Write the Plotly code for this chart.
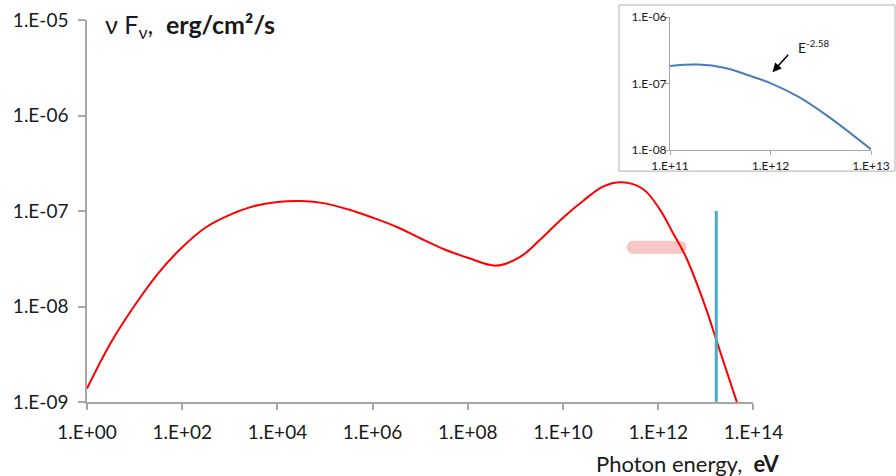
import numpy as np
import plotly.graph_objects as go

# ---- data (log10 values) ----
sed_log_e = [0.0, 0.5, 1.0, 1.5, 2.0, 2.5, 3.0, 3.5, 4.0, 4.5, 5.0, 5.5, 6.0, 6.5, 7.0, 7.5,
             8.0, 8.6, 9.1, 9.5, 10.0, 10.42, 10.84, 11.23, 11.68, 12.03, 12.31, 12.59,
             13.01, 13.22, 13.64, 13.72]
sed_log_f = [-8.86, -8.38, -7.99, -7.65, -7.38, -7.17, -7.04, -6.95, -6.905, -6.895, -6.92,
             -6.985, -7.07, -7.165, -7.285, -7.40, -7.49, -7.572, -7.48, -7.31, -7.07,
             -6.895, -6.745, -6.70, -6.77, -6.98, -7.23, -7.49, -8.03, -8.35, -8.98, -9.10]

band_log_e = [11.475, 12.46]
band_log_f = [-7.38, -7.38]

limit_log_e = [13.22, 13.22]
limit_log_f = [-7.0, -9.0]

inset_log_e = [11.0, 11.28, 11.55, 11.78, 12.01, 12.28, 12.58, 13.01]
inset_log_f = [-6.735, -6.715, -6.765, -6.875, -7.0, -7.2, -7.5, -8.0]

main_x_ticks = [0, 2, 4, 6, 8, 10, 12, 14]
main_x_text = ["1.E+00", "1.E+02", "1.E+04", "1.E+06", "1.E+08", "1.E+10", "1.E+12", "1.E+14"]
main_y_ticks = [-9, -8, -7, -6, -5]
main_y_text = ["1.E-09", "1.E-08", "1.E-07", "1.E-06", "1.E-05"]
inset_x_ticks = [11, 12, 13]
inset_x_text = ["1.E+11", "1.E+12", "1.E+13"]
inset_y_ticks = [-8, -7, -6]
inset_y_text = ["1.E-08", "1.E-07", "1.E-06"]

# ---- layout geometry (pixels) ----
W, H = 896, 476
ML, MR, MT, MB = 87, 25, 17, 74.3
PW = W - ML - MR
PH = H - MT - MB


def px(x):
    return (x - ML) / PW


def py(y):
    return (H - MB - y) / PH


FONT = "Lato, Calibri, Carlito, sans-serif"
AXC = "#a6a6a6"

fig = go.Figure()

fig.add_trace(go.Scatter(x=10 ** np.array(band_log_e), y=10 ** np.array(band_log_f), mode="lines+markers",
                         line=dict(color="#f9c6c6", width=13), marker=dict(color="#f9c6c6", size=13),
                         showlegend=False, hoverinfo="skip"))
fig.add_trace(go.Scatter(x=10 ** np.array(sed_log_e), y=10 ** np.array(sed_log_f), mode="lines",
                         line=dict(color="#ff0000", width=2, shape="spline", smoothing=1.0),
                         showlegend=False))
fig.add_trace(go.Scatter(x=10 ** np.array(limit_log_e), y=10 ** np.array(limit_log_f), mode="lines",
                         line=dict(color="#4bacc6", width=3), showlegend=False))
fig.add_trace(go.Scatter(x=10 ** np.array(inset_log_e), y=10 ** np.array(inset_log_f), mode="lines",
                         line=dict(color="#4a7ebb", width=2, shape="spline"), xaxis="x2", yaxis="y2",
                         showlegend=False))

common = dict(showgrid=False, zeroline=False, showline=True, linecolor=AXC, ticks="outside",
              tickcolor=AXC, automargin=False)

fig.update_layout(
    width=W, height=H, margin=dict(l=ML, r=MR, t=MT, b=MB, autoexpand=False),
    paper_bgcolor="white", plot_bgcolor="rgba(0,0,0,0)",
    font=dict(family=FONT, color="#1a1a1a"),
    xaxis=dict(type="log", range=[0, 14], domain=[0, px(753.4)], tickvals=[10.0 ** v for v in main_x_ticks],
               ticktext=main_x_text, linewidth=1.5, ticklen=6, tickwidth=1.5, ticklabelstandoff=6,
               tickfont=dict(size=19, family=FONT), anchor="y", **common),
    yaxis=dict(type="log", range=[-9, -5], domain=[0, py(20)], tickvals=[10.0 ** v for v in main_y_ticks],
               ticktext=main_y_text, linewidth=1.5, ticklen=7, tickwidth=1.5,
               tickfont=dict(size=19, family=FONT), anchor="x", ticklabelstandoff=6, **common),
    xaxis2=dict(type="log", range=[11, 13], domain=[px(670), px(871)], tickvals=[10.0 ** v for v in inset_x_ticks],
                ticktext=inset_x_text, linewidth=1, ticklen=4,
                tickfont=dict(size=12, family=FONT), anchor="y2", **common),
    yaxis2=dict(type="log", range=[-8, -6], domain=[py(150), py(17)], tickvals=[10.0 ** v for v in inset_y_ticks],
                ticktext=inset_y_text, linewidth=1, ticklen=4, ticklabelstandoff=-4,
                tickfont=dict(size=12, family=FONT), anchor="x2", **common),
    shapes=[dict(type="rect", xref="paper", yref="paper", x0=px(619), x1=px(895), y0=py(171), y1=py(5),
                 line=dict(color="#b0b0b0", width=1), fillcolor="rgba(0,0,0,0)", layer="below")],
    annotations=[
        dict(xref="paper", yref="paper", x=px(103), y=py(26), xanchor="left", yanchor="middle", showarrow=False,
             text="ν F<sub>ν</sub>,  <b>erg/cm²/s</b>", font=dict(size=25, family=FONT, color="#1a1a1a")),
        dict(xref="paper", yref="paper", x=px(781), y=py(463), xanchor="right", yanchor="middle", showarrow=False,
             text="Photon energy,  <b>eV</b>", font=dict(size=22, family=FONT, color="#1a1a1a")),
        dict(xref="paper", yref="paper", x=px(796), y=py(46), xanchor="left", yanchor="middle", showarrow=False,
             text="E<sup>-2.58</sup>", font=dict(size=14, family=FONT, color="#1a1a1a")),
        dict(xref="x2", yref="y2", x=12.02, y=-6.83, text="", showarrow=True, ax=17, ay=-19,
             arrowhead=2, arrowsize=1.2, arrowwidth=1.5, arrowcolor="black"),
    ],
)

fig.write_html("out.html")
